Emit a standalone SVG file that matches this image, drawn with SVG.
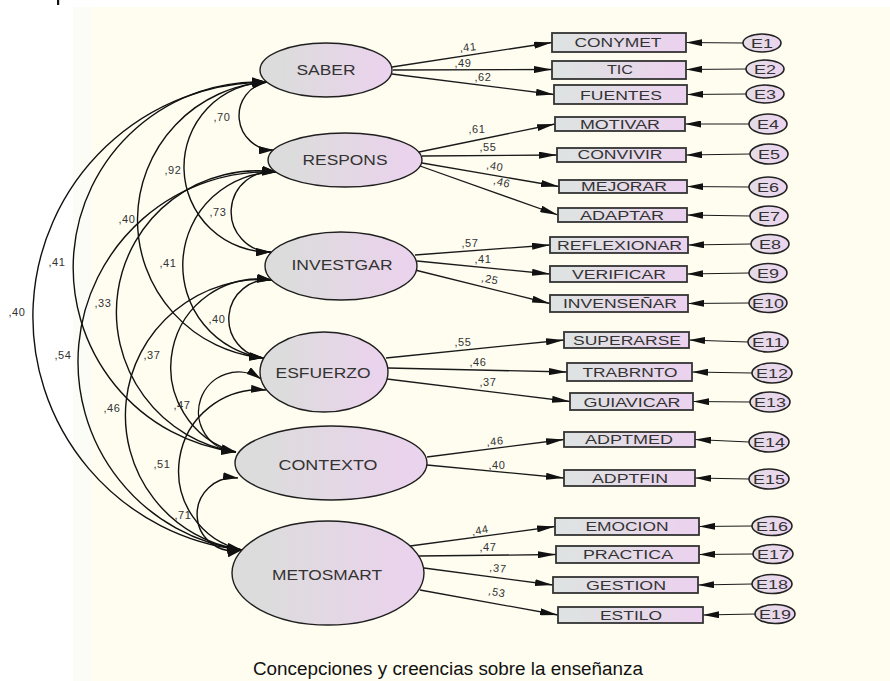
<svg xmlns="http://www.w3.org/2000/svg" width="890" height="681" viewBox="0 0 890 681">
  <style>
    .lat { stroke: #1f1f1f; stroke-width: 1.4; fill: url(#latFill); }
    .obs { stroke: #333; stroke-width: 1.8; fill: url(#obsFill); }
    .err { stroke: #222; stroke-width: 1.6; fill: url(#errFill); }
    .latT { font-family: "Liberation Sans", Arial, sans-serif; font-size: 14px; fill: #333; text-anchor: middle; }
    .obsT { font-family: "Liberation Sans", Arial, sans-serif; font-size: 12.5px; fill: #333; text-anchor: middle; }
    .errT { font-family: "Liberation Sans", Arial, sans-serif; font-size: 13px; fill: #333; text-anchor: middle; }
    .coef { font-family: "Liberation Sans", Arial, sans-serif; font-size: 11px; fill: #333; text-anchor: middle; letter-spacing: 0.6px; }
    .load { stroke: #1a1a1a; stroke-width: 1.3; fill: none; marker-end: url(#ld); }
    .eline { stroke: #1a1a1a; stroke-width: 1.1; fill: none; marker-end: url(#er); }
    .cov { stroke: #111; stroke-width: 1.4; fill: none; marker-start: url(#cv); marker-end: url(#cv); }
    .cap { font-family: "Liberation Sans", Arial, sans-serif; font-size: 18px; fill: #111; }
  </style>
  <defs>
    <linearGradient id="latFill" x1="0" y1="0" x2="1" y2="0">
      <stop offset="0.15" stop-color="#dcdcdc"/>
      <stop offset="0.9" stop-color="#ead3ec"/>
    </linearGradient>
    <linearGradient id="obsFill" x1="0" y1="0" x2="1" y2="0">
      <stop offset="0.1" stop-color="#dfe2e2"/>
      <stop offset="0.95" stop-color="#ebd2ee"/>
    </linearGradient>
    <linearGradient id="errFill" x1="0" y1="0" x2="1" y2="0">
      <stop offset="0" stop-color="#e4dde6"/>
      <stop offset="1" stop-color="#ecd4ef"/>
    </linearGradient>
    <marker id="ld" viewBox="0 0 18 7" refX="18" refY="3.5" markerWidth="18" markerHeight="7" markerUnits="userSpaceOnUse" orient="auto">
      <path d="M0,0 L18,3.5 L0,7 z" fill="#111"/>
    </marker>
    <marker id="er" viewBox="0 0 16 7" refX="16" refY="3.5" markerWidth="16" markerHeight="7" markerUnits="userSpaceOnUse" orient="auto">
      <path d="M0,0 L16,3.5 L0,7 z" fill="#111"/>
    </marker>
    <marker id="cv" viewBox="0 0 15 8" refX="15" refY="4" markerWidth="15" markerHeight="8" markerUnits="userSpaceOnUse" orient="auto-start-reverse">
      <path d="M0,0 L15,4 L0,8 z" fill="#111"/>
    </marker>
  </defs>

  <!-- page background -->
  <rect x="0" y="0" width="890" height="681" fill="#ffffff"/>
  <rect x="73" y="7" width="19" height="674" fill="#fcfcf6"/>
  <rect x="92" y="7" width="798" height="674" fill="#fefdf0"/>
  <rect x="57" y="0" width="2.2" height="5" fill="#111"/>

  <!-- connectors -->
  <g id="connectors">
    <!-- covariances -->
    <path class="cov" d="M267,82 A34.3,34.3 0 0 0 274,150"/>
    <path class="cov" d="M267,82 A85,85 0 0 0 271,252"/>
    <path class="cov" d="M267,82 A138.4,138.4 0 0 0 264,358"/>
    <path class="cov" d="M267,82 A185.8,185.8 0 0 0 236,452"/>
    <path class="cov" d="M267,82 A234.7,234.7 0 0 0 242,550"/>
    <path class="cov" d="M277,172 A40.2,40.2 0 1 0 271,252"/>
    <path class="cov" d="M277,172 A93.4,93.4 0 0 0 264,358"/>
    <path class="cov" d="M277,172 A141.5,141.5 0 0 0 236,452"/>
    <path class="cov" d="M277,172 A190,190 0 0 0 242,550"/>
    <path class="cov" d="M272,280 A39.2,39.2 0 0 0 264,358"/>
    <path class="cov" d="M272,280 A88,88 0 0 0 236,452"/>
    <path class="cov" d="M272,280 A135.9,135.9 0 0 0 242,550"/>
    <path class="cov" d="M261,379 A40,40 0 1 0 236,452"/>
    <path class="cov" d="M266,390 A81.1,81.1 0 0 0 242,550"/>
    <path class="cov" d="M238,478 A36.6,36.6 0 1 0 242,550"/>

    <!-- loadings -->
    <line class="load" x1="392" y1="67" x2="552" y2="42.5"/>
    <line class="load" x1="393" y1="70" x2="552" y2="69.5"/>
    <line class="load" x1="392" y1="74" x2="554" y2="94.5"/>
    <line class="load" x1="419" y1="152" x2="555" y2="124"/>
    <line class="load" x1="422" y1="156" x2="557" y2="155"/>
    <line class="load" x1="422" y1="163" x2="559" y2="186.5"/>
    <line class="load" x1="420" y1="166" x2="558" y2="215"/>
    <line class="load" x1="415" y1="255" x2="550" y2="245"/>
    <line class="load" x1="417" y1="261" x2="550" y2="274"/>
    <line class="load" x1="415" y1="270" x2="550" y2="303.5"/>
    <line class="load" x1="386" y1="358" x2="564" y2="340"/>
    <line class="load" x1="388" y1="368" x2="567" y2="372"/>
    <line class="load" x1="387" y1="379" x2="570" y2="401.5"/>
    <line class="load" x1="427" y1="457" x2="564" y2="439.5"/>
    <line class="load" x1="427" y1="465" x2="564" y2="478"/>
    <line class="load" x1="410" y1="546" x2="555" y2="526.5"/>
    <line class="load" x1="419" y1="556" x2="556" y2="554.5"/>
    <line class="load" x1="424" y1="568" x2="553" y2="585"/>
    <line class="load" x1="420" y1="590" x2="558" y2="615"/>

    <!-- error terms -->
    <line class="eline" x1="743" y1="43" x2="686" y2="42.5"/>
    <line class="eline" x1="746" y1="69" x2="686" y2="69.5"/>
    <line class="eline" x1="746" y1="94" x2="687" y2="94.5"/>
    <line class="eline" x1="749" y1="124" x2="685" y2="124"/>
    <line class="eline" x1="750" y1="154" x2="686" y2="155"/>
    <line class="eline" x1="749" y1="187" x2="687" y2="186.5"/>
    <line class="eline" x1="750" y1="216" x2="687" y2="215"/>
    <line class="eline" x1="751" y1="244" x2="688" y2="245"/>
    <line class="eline" x1="749" y1="273" x2="687" y2="274"/>
    <line class="eline" x1="749" y1="303" x2="688" y2="303.5"/>
    <line class="eline" x1="748" y1="342" x2="689" y2="340"/>
    <line class="eline" x1="752" y1="373" x2="692" y2="372"/>
    <line class="eline" x1="750" y1="402" x2="693" y2="401.5"/>
    <line class="eline" x1="749" y1="442" x2="695" y2="439.5"/>
    <line class="eline" x1="749" y1="479" x2="695" y2="478"/>
    <line class="eline" x1="752" y1="526" x2="699" y2="526.5"/>
    <line class="eline" x1="753" y1="554" x2="699" y2="554.5"/>
    <line class="eline" x1="752" y1="584" x2="698" y2="585"/>
    <line class="eline" x1="755" y1="614" x2="703" y2="615"/>

    <!-- covariance estimates -->
    <text class="coef" x="222" y="121">,70</text>
    <text class="coef" x="173" y="174">,92</text>
    <text class="coef" x="127" y="223">,40</text>
    <text class="coef" x="57" y="266">,41</text>
    <text class="coef" x="17" y="316">,40</text>
    <text class="coef" x="218" y="216">,73</text>
    <text class="coef" x="168" y="267">,41</text>
    <text class="coef" x="103" y="307">,33</text>
    <text class="coef" x="63" y="359">,54</text>
    <text class="coef" x="217" y="323">,40</text>
    <text class="coef" x="152" y="359">,37</text>
    <text class="coef" x="112" y="412">,46</text>
    <text class="coef" x="182" y="409">,47</text>
    <text class="coef" x="162" y="468">,51</text>
    <text class="coef" x="183" y="519">,71</text>

    <!-- loading estimates -->
    <text class="coef" x="468" y="51" transform="rotate(-6 468 47)">,41</text>
    <text class="coef" x="463" y="67">,49</text>
    <text class="coef" x="483" y="81">,62</text>
    <text class="coef" x="477" y="133">,61</text>
    <text class="coef" x="488" y="151">,55</text>
    <text class="coef" x="495" y="170" transform="rotate(10 495 166)">,40</text>
    <text class="coef" x="502" y="186" transform="rotate(14 502 182)">,46</text>
    <text class="coef" x="470" y="247">,57</text>
    <text class="coef" x="483" y="263">,41</text>
    <text class="coef" x="490" y="283" transform="rotate(12 490 279)">,25</text>
    <text class="coef" x="463" y="346">,55</text>
    <text class="coef" x="478" y="366">,46</text>
    <text class="coef" x="488" y="386">,37</text>
    <text class="coef" x="495" y="445" transform="rotate(-5 495 441)">,46</text>
    <text class="coef" x="497" y="469">,40</text>
    <text class="coef" x="480" y="534" transform="rotate(-10 480 530)">,44</text>
    <text class="coef" x="488" y="551">,47</text>
    <text class="coef" x="498" y="572" transform="rotate(6 498 568)">,37</text>
    <text class="coef" x="497" y="596" transform="rotate(12 497 592)">,53</text>
  </g>

  <!-- latent factors -->
  <g id="SABER">
    <ellipse class="lat" cx="326" cy="70" rx="66" ry="27"/>
    <text class="latT" x="326" y="75" textLength="59" lengthAdjust="spacingAndGlyphs">SABER</text>
  </g>
  <g id="RESPONS">
    <ellipse class="lat" cx="345" cy="160" rx="77" ry="27"/>
    <text class="latT" x="345" y="165" textLength="85" lengthAdjust="spacingAndGlyphs">RESPONS</text>
  </g>
  <g id="INVESTGAR">
    <ellipse class="lat" cx="341" cy="266" rx="76" ry="34"/>
    <text class="latT" x="342" y="270" textLength="101" lengthAdjust="spacingAndGlyphs">INVESTGAR</text>
  </g>
  <g id="ESFUERZO">
    <ellipse class="lat" cx="324" cy="372" rx="64" ry="40"/>
    <text class="latT" x="323" y="378" textLength="95" lengthAdjust="spacingAndGlyphs">ESFUERZO</text>
  </g>
  <g id="CONTEXTO">
    <ellipse class="lat" cx="331" cy="463" rx="96" ry="37"/>
    <text class="latT" x="328" y="470" textLength="99" lengthAdjust="spacingAndGlyphs">CONTEXTO</text>
  </g>
  <g id="METOSMART">
    <ellipse class="lat" cx="328" cy="573" rx="96" ry="52"/>
    <text class="latT" x="327" y="580" textLength="110" lengthAdjust="spacingAndGlyphs">METOSMART</text>
  </g>

  <!-- observed indicators -->
  <g id="CONYMET"><rect class="obs" x="552" y="33" width="134" height="19"/><text class="obsT" x="618" y="47" textLength="87" lengthAdjust="spacingAndGlyphs">CONYMET</text></g>
  <g id="TIC"><rect class="obs" x="552" y="61" width="134" height="18"/><text class="obsT" x="620" y="74" textLength="26" lengthAdjust="spacingAndGlyphs">TIC</text></g>
  <g id="FUENTES"><rect class="obs" x="554" y="85" width="133" height="19"/><text class="obsT" x="621" y="99.5" textLength="82" lengthAdjust="spacingAndGlyphs">FUENTES</text></g>
  <g id="MOTIVAR"><rect class="obs" x="555" y="117" width="130" height="14"/><text class="obsT" x="620" y="128.5" textLength="80" lengthAdjust="spacingAndGlyphs">MOTIVAR</text></g>
  <g id="CONVIVIR"><rect class="obs" x="557" y="148" width="129" height="14"/><text class="obsT" x="620" y="159" textLength="85" lengthAdjust="spacingAndGlyphs">CONVIVIR</text></g>
  <g id="MEJORAR"><rect class="obs" x="559" y="180" width="128" height="13"/><text class="obsT" x="624" y="191" textLength="86" lengthAdjust="spacingAndGlyphs">MEJORAR</text></g>
  <g id="ADAPTAR"><rect class="obs" x="558" y="208" width="129" height="14"/><text class="obsT" x="622" y="219.5" textLength="84" lengthAdjust="spacingAndGlyphs">ADAPTAR</text></g>
  <g id="REFLEXIONAR"><rect class="obs" x="550" y="237" width="138" height="16"/><text class="obsT" x="619.5" y="249.5" textLength="125" lengthAdjust="spacingAndGlyphs">REFLEXIONAR</text></g>
  <g id="VERIFICAR"><rect class="obs" x="550" y="266" width="137" height="16"/><text class="obsT" x="619" y="278.5" textLength="94" lengthAdjust="spacingAndGlyphs">VERIFICAR</text></g>
  <g id="INVENSENAR"><rect class="obs" x="550" y="295" width="138" height="17"/><text class="obsT" x="620" y="308" textLength="114" lengthAdjust="spacingAndGlyphs">INVENSEÑAR</text></g>
  <g id="SUPERARSE"><rect class="obs" x="564" y="332" width="125" height="16"/><text class="obsT" x="627" y="344.5" textLength="108" lengthAdjust="spacingAndGlyphs">SUPERARSE</text></g>
  <g id="TRABRNTO"><rect class="obs" x="567" y="363" width="125" height="18"/><text class="obsT" x="630" y="377" textLength="95" lengthAdjust="spacingAndGlyphs">TRABRNTO</text></g>
  <g id="GUIAVICAR"><rect class="obs" x="570" y="393" width="123" height="17"/><text class="obsT" x="632" y="406.5" textLength="97" lengthAdjust="spacingAndGlyphs">GUIAVICAR</text></g>
  <g id="ADPTMED"><rect class="obs" x="564" y="432" width="131" height="15"/><text class="obsT" x="629" y="444" textLength="88" lengthAdjust="spacingAndGlyphs">ADPTMED</text></g>
  <g id="ADPTFIN"><rect class="obs" x="564" y="470" width="131" height="16"/><text class="obsT" x="630" y="482.5" textLength="76" lengthAdjust="spacingAndGlyphs">ADPTFIN</text></g>
  <g id="EMOCION"><rect class="obs" x="555" y="518" width="144" height="17"/><text class="obsT" x="627" y="531" textLength="83" lengthAdjust="spacingAndGlyphs">EMOCION</text></g>
  <g id="PRACTICA"><rect class="obs" x="556" y="546" width="143" height="17"/><text class="obsT" x="628" y="559" textLength="90" lengthAdjust="spacingAndGlyphs">PRACTICA</text></g>
  <g id="GESTION"><rect class="obs" x="553" y="577" width="145" height="16"/><text class="obsT" x="626" y="589.5" textLength="80" lengthAdjust="spacingAndGlyphs">GESTION</text></g>
  <g id="ESTILO"><rect class="obs" x="558" y="607" width="145" height="16"/><text class="obsT" x="631" y="619.5" textLength="62" lengthAdjust="spacingAndGlyphs">ESTILO</text></g>

  <!-- error terms -->
  <g id="E1"><ellipse class="err" cx="762" cy="43" rx="19" ry="9"/><text class="errT" x="762" y="47.5" textLength="22" lengthAdjust="spacingAndGlyphs">E1</text></g>
  <g id="E2"><ellipse class="err" cx="765" cy="69" rx="19" ry="9"/><text class="errT" x="765" y="73.5" textLength="22" lengthAdjust="spacingAndGlyphs">E2</text></g>
  <g id="E3"><ellipse class="err" cx="765" cy="94" rx="19" ry="9"/><text class="errT" x="765" y="98.5" textLength="22" lengthAdjust="spacingAndGlyphs">E3</text></g>
  <g id="E4"><ellipse class="err" cx="768" cy="124" rx="19" ry="10"/><text class="errT" x="768" y="128.5" textLength="22" lengthAdjust="spacingAndGlyphs">E4</text></g>
  <g id="E5"><ellipse class="err" cx="769" cy="154" rx="19" ry="10"/><text class="errT" x="769" y="158.5" textLength="22" lengthAdjust="spacingAndGlyphs">E5</text></g>
  <g id="E6"><ellipse class="err" cx="768" cy="187" rx="19" ry="10"/><text class="errT" x="768" y="191.5" textLength="22" lengthAdjust="spacingAndGlyphs">E6</text></g>
  <g id="E7"><ellipse class="err" cx="769" cy="216" rx="19" ry="10"/><text class="errT" x="769" y="220.5" textLength="22" lengthAdjust="spacingAndGlyphs">E7</text></g>
  <g id="E8"><ellipse class="err" cx="770" cy="244" rx="19" ry="9.5"/><text class="errT" x="770" y="248.5" textLength="22" lengthAdjust="spacingAndGlyphs">E8</text></g>
  <g id="E9"><ellipse class="err" cx="768" cy="273" rx="19" ry="9.5"/><text class="errT" x="768" y="277.5" textLength="22" lengthAdjust="spacingAndGlyphs">E9</text></g>
  <g id="E10"><ellipse class="err" cx="768" cy="303" rx="19" ry="9.5"/><text class="errT" x="768" y="307.5" textLength="32" lengthAdjust="spacingAndGlyphs">E10</text></g>
  <g id="E11"><ellipse class="err" cx="768" cy="342" rx="20" ry="10"/><text class="errT" x="768" y="346.5" textLength="32" lengthAdjust="spacingAndGlyphs">E11</text></g>
  <g id="E12"><ellipse class="err" cx="772" cy="373" rx="20" ry="10"/><text class="errT" x="772" y="377.5" textLength="32" lengthAdjust="spacingAndGlyphs">E12</text></g>
  <g id="E13"><ellipse class="err" cx="770" cy="402" rx="20" ry="10"/><text class="errT" x="770" y="406.5" textLength="32" lengthAdjust="spacingAndGlyphs">E13</text></g>
  <g id="E14"><ellipse class="err" cx="769" cy="442" rx="20" ry="10"/><text class="errT" x="769" y="446.5" textLength="32" lengthAdjust="spacingAndGlyphs">E14</text></g>
  <g id="E15"><ellipse class="err" cx="769" cy="479" rx="20" ry="10"/><text class="errT" x="769" y="483.5" textLength="32" lengthAdjust="spacingAndGlyphs">E15</text></g>
  <g id="E16"><ellipse class="err" cx="772" cy="526" rx="20" ry="9.5"/><text class="errT" x="772" y="530.5" textLength="32" lengthAdjust="spacingAndGlyphs">E16</text></g>
  <g id="E17"><ellipse class="err" cx="773" cy="554" rx="20" ry="9.5"/><text class="errT" x="773" y="558.5" textLength="32" lengthAdjust="spacingAndGlyphs">E17</text></g>
  <g id="E18"><ellipse class="err" cx="772" cy="584" rx="20" ry="9.5"/><text class="errT" x="772" y="588.5" textLength="32" lengthAdjust="spacingAndGlyphs">E18</text></g>
  <g id="E19"><ellipse class="err" cx="775" cy="614" rx="20" ry="9.5"/><text class="errT" x="775" y="618.5" textLength="32" lengthAdjust="spacingAndGlyphs">E19</text></g>

  <!-- caption -->
  <text class="cap" x="253" y="675" textLength="390" lengthAdjust="spacingAndGlyphs">Concepciones y creencias sobre la enseñanza</text>
</svg>
